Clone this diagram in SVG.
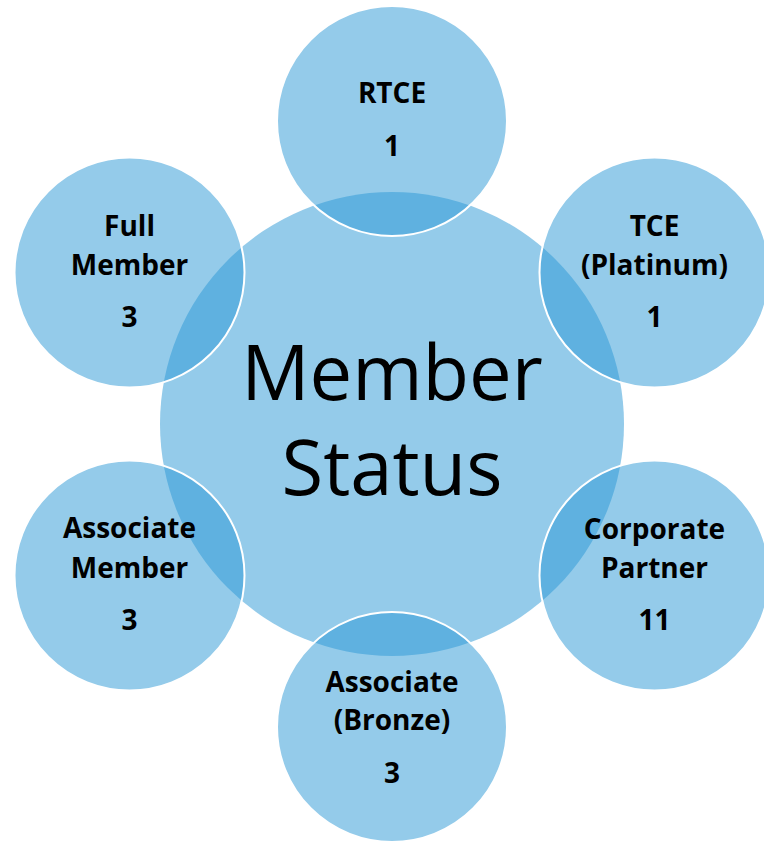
<svg xmlns="http://www.w3.org/2000/svg" width="764" height="842" viewBox="0 0 764 842">
  <style>
    .hub { fill: #2A97D5; fill-opacity: 0.5; }
    .sat { fill: #2A97D5; fill-opacity: 0.5; stroke: #FFFFFF; stroke-width: 2; }
    .lbl { font-family: "Open Sans", "Liberation Sans", sans-serif; font-weight: bold; font-size: 28px; fill: #000000; text-anchor: middle; }
    .hubtxt { font-family: "Open Sans", "Liberation Sans", sans-serif; font-size: 76px; fill: #000000; text-anchor: middle; }
  </style>
  <rect width="764" height="842" fill="#FFFFFF"/>
  <g id="member-status">
    <circle class="hub" cx="392" cy="424" r="232"/>
    <text class="hubtxt" x="392" y="400">Member</text>
    <text class="hubtxt" x="392" y="495">Status</text>
  </g>
  <g id="rtce">
    <circle class="sat" cx="392" cy="121" r="115"/>
    <text class="lbl" x="392" y="103">RTCE</text>
    <text class="lbl" x="392" y="156">1</text>
  </g>
  <g id="tce-platinum">
    <circle class="sat" cx="654.5" cy="272.5" r="115"/>
    <text class="lbl" x="654.5" y="236">TCE</text>
    <text class="lbl" x="654.5" y="275">(Platinum)</text>
    <text class="lbl" x="654.5" y="327">1</text>
  </g>
  <g id="corporate-partner">
    <circle class="sat" cx="654.5" cy="575.5" r="115"/>
    <text class="lbl" x="654.5" y="539">Corporate</text>
    <text class="lbl" x="654.5" y="578">Partner</text>
    <text class="lbl" x="654.5" y="630">11</text>
  </g>
  <g id="associate-bronze">
    <circle class="sat" cx="392" cy="727" r="115"/>
    <text class="lbl" x="392" y="692">Associate</text>
    <text class="lbl" x="392" y="730">(Bronze)</text>
    <text class="lbl" x="392" y="783">3</text>
  </g>
  <g id="associate-member">
    <circle class="sat" cx="129.5" cy="575.5" r="115"/>
    <text class="lbl" x="129.5" y="538">Associate</text>
    <text class="lbl" x="129.5" y="578">Member</text>
    <text class="lbl" x="129.5" y="630">3</text>
  </g>
  <g id="full-member">
    <circle class="sat" cx="129.5" cy="272.5" r="115"/>
    <text class="lbl" x="129.5" y="236">Full</text>
    <text class="lbl" x="129.5" y="275">Member</text>
    <text class="lbl" x="129.5" y="327">3</text>
  </g>
</svg>
